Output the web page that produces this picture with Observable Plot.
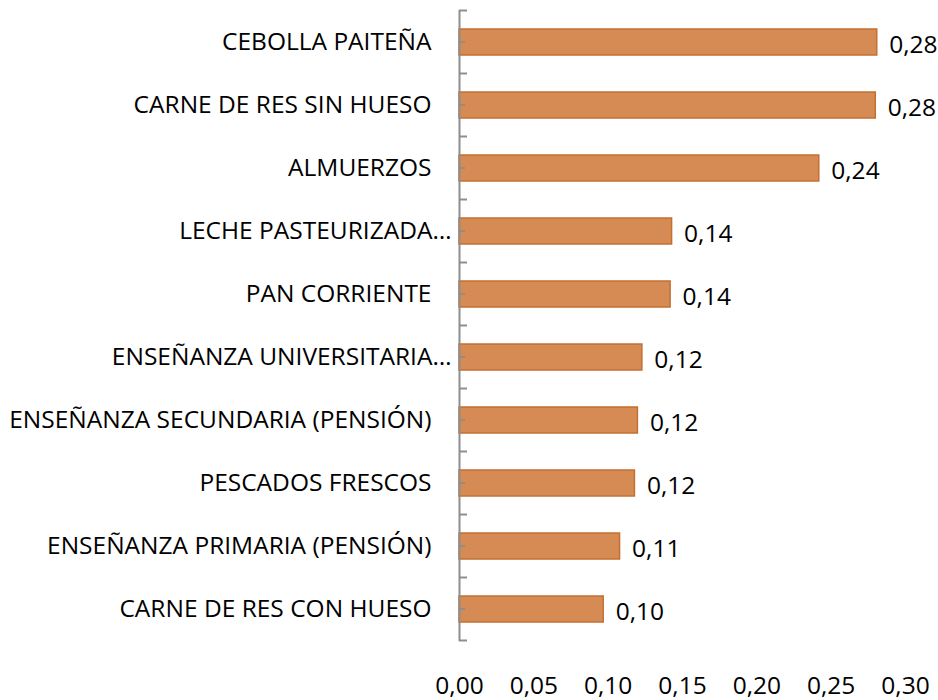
<!DOCTYPE html>
<html>
<head>
<meta charset="utf-8">
<script src="https://cdn.jsdelivr.net/npm/d3@7"></script>
<script src="https://cdn.jsdelivr.net/npm/@observablehq/plot@0.6"></script>
<style>
  html, body { margin: 0; padding: 0; background: #fff; }
</style>
</head>
<body>
<div id="chart"></div>
<script>
const categories = [
  "CEBOLLA PAITEÑA",
  "CARNE DE RES SIN HUESO",
  "ALMUERZOS",
  "LECHE PASTEURIZADA…",
  "PAN CORRIENTE",
  "ENSEÑANZA UNIVERSITARIA…",
  "ENSEÑANZA SECUNDARIA (PENSIÓN)",
  "PESCADOS FRESCOS",
  "ENSEÑANZA PRIMARIA (PENSIÓN)",
  "CARNE DE RES CON HUESO"
];
const values = [0.281, 0.280, 0.242, 0.143, 0.142, 0.123, 0.120, 0.118, 0.108, 0.097];
const valueLabels = ["0,28", "0,28", "0,24", "0,14", "0,14", "0,12", "0,12", "0,12", "0,11", "0,10"];
const xTicks = [0, 0.05, 0.10, 0.15, 0.20, 0.25, 0.30];

const data = categories.map((c, i) => ({cat: c, value: values[i], label: valueLabels[i]}));
const fmt = d => d.toFixed(2).replace(".", ",");
const isTrunc = d => d.cat.endsWith("…");
const FS = 24.5;
const AXIS = "#8E8E8E";

const axisTicks = (index, scales, channels, dimensions) => {
  const y = scales.y, x = scales.x;
  const bw = typeof y.bandwidth === "function" ? y.bandwidth() : y.bandwidth;
  const step = y(categories[1]) - y(categories[0]);
  const x0 = x(0);
  const g = d3.create("svg:g").attr("stroke", AXIS).attr("stroke-width", 2);
  categories.forEach((c, i) => {
    const cy = y(c) + bw / 2;
    g.append("line").attr("x1", x0).attr("x2", x0 + 8).attr("y1", cy - step / 2).attr("y2", cy - step / 2);
    g.append("line").attr("x1", x0).attr("x2", x0 + 6).attr("y1", cy).attr("y2", cy);
    if (i === categories.length - 1) {
      g.append("line").attr("x1", x0).attr("x2", x0 + 8).attr("y1", cy + step / 2).attr("y2", cy + step / 2);
    }
  });
  return g.node();
};

const chart = Plot.plot({
  width: 938,
  height: 700,
  marginLeft: 459,
  marginRight: 33,
  marginTop: 10,
  marginBottom: 59,
  style: {fontFamily: "'Open Sans', sans-serif", fontSize: FS + "px", color: "#000", background: "#fff"},
  x: {domain: [0, 0.30]},
  y: {domain: categories, paddingInner: 0.585, paddingOuter: 0.2925, axis: null},
  marks: [
    Plot.barX(data, {x: "value", y: "cat", fill: "#D78B54", stroke: "#C27030", strokeWidth: 1.5}),
    Plot.ruleX([0], {stroke: AXIS, strokeWidth: 2}),
    axisTicks,
    Plot.axisX(xTicks, {tickSize: 0, tickPadding: 35, tickFormat: fmt, label: null, fontSize: FS, fill: "#000"}),
    Plot.text(data.filter(d => !isTrunc(d)), {x: 0, y: "cat", text: "cat", textAnchor: "end", dx: -28, fontSize: FS, fill: "#000"}),
    Plot.text(data.filter(isTrunc), {x: 0, y: "cat", text: "cat", textAnchor: "end", dx: -8, fontSize: FS, fill: "#000"}),
    Plot.text(data, {x: "value", y: "cat", text: "label", textAnchor: "start", dx: 12, dy: 3, fontSize: FS, fill: "#000"})
  ]
});
document.getElementById("chart").appendChild(chart);
</script>
</body>
</html>
